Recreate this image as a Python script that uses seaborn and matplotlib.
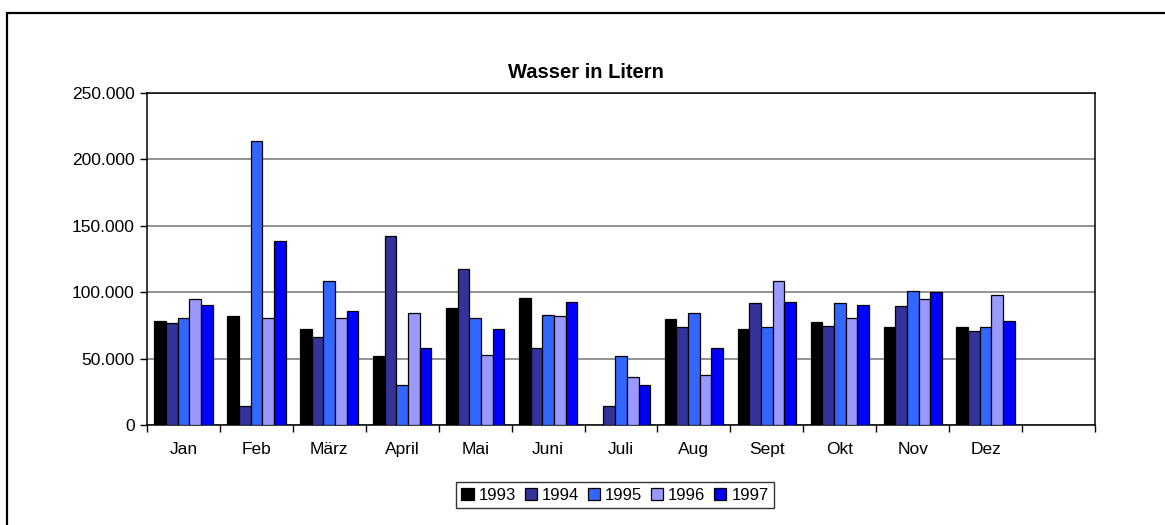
import numpy as np
import pandas as pd
import matplotlib
matplotlib.use("Agg")
import matplotlib.pyplot as plt
from matplotlib.patches import Rectangle
from matplotlib.ticker import FuncFormatter, FixedLocator
import seaborn as sns

# data (values in liters)
months = ["Jan", "Feb", "März", "April", "Mai", "Juni", "Juli", "Aug", "Sept", "Okt", "Nov", "Dez"]
years = ["1993", "1994", "1995", "1996", "1997"]
v1993 = [78500, 82100, 72500, 51900, 88100, 95400, np.nan, 79800, 72500, 77300, 73500, 73500]
v1994 = [76800, 14400, 66200, 142500, 117100, 57900, 14400, 73500, 91600, 74800, 89400, 71000]
v1995 = [80600, 213700, 108500, 30000, 80600, 83100, 51600, 84300, 73500, 91600, 101200, 73500]
v1996 = [95200, 80600, 80600, 84300, 52900, 81800, 36000, 37300, 108500, 80600, 95200, 97700]
v1997 = [90400, 138700, 85900, 57900, 72300, 92900, 30000, 57900, 92900, 90400, 100200, 78500]
colors = ["#000000", "#333399", "#3366FF", "#9999FF", "#0000FF"]

df = pd.DataFrame({"Monat": months, "1993": v1993, "1994": v1994, "1995": v1995,
                   "1996": v1996, "1997": v1997})
long = df.melt(id_vars="Monat", var_name="Jahr", value_name="Liter").dropna()

sns.set_theme(style="white")
plt.rcParams["font.family"] = ["Liberation Sans", "DejaVu Sans"]
plt.rcParams["text.color"] = "black"
plt.rcParams["xtick.color"] = "black"
plt.rcParams["ytick.color"] = "black"

fig = plt.figure(figsize=(11.65, 5.25), dpi=100)
ax = fig.add_axes([147 / 1165, 100 / 525, 948 / 1165, 332 / 525])

order = months + [""]
sns.barplot(data=long, x="Monat", y="Liter", hue="Jahr", order=order, hue_order=years,
            palette=colors, saturation=1, errorbar=None, width=0.8, edgecolor="black",
            linewidth=0.9, ax=ax, legend=True, zorder=3)

ax.set_xlim(-0.5, len(order) - 0.5)
ax.set_ylim(0, 250000)
ax.set_yticks(np.arange(0, 250001, 50000))
ax.yaxis.set_major_formatter(FuncFormatter(lambda v, p: f"{int(v):,}".replace(",", ".")))
ax.grid(axis="y", color="#808080", linewidth=1.2, zorder=0)
ax.set_axisbelow(True)
ax.set_xlabel("")
ax.set_ylabel("")

ax.xaxis.set_minor_locator(FixedLocator(np.arange(-0.5, len(order), 1.0)))
ax.tick_params(axis="x", which="major", length=0, pad=12, labelsize=12.5, labelcolor="black")
ax.tick_params(axis="x", which="minor", bottom=True, length=5, width=1, color="black", direction="out")
ax.tick_params(axis="y", left=True, length=5, width=1, color="black", direction="out",
               labelsize=12.5, labelcolor="black", pad=4)

for s in ax.spines.values():
    s.set_color("black")
    s.set_linewidth(1.1)

handles, labels = ax.get_legend_handles_labels()
ax.get_legend().remove()
leg = fig.legend(handles, labels, loc="center", bbox_to_anchor=(615 / 1165, 1 - 495 / 525),
                 ncol=5, frameon=True, fancybox=False, edgecolor="black", fontsize=12,
                 handlelength=0.75, handleheight=0.75, handletextpad=0.3,
                 columnspacing=0.5, borderpad=0.35, borderaxespad=0)
leg.get_frame().set_linewidth(1.0)
for t in leg.get_texts():
    t.set_color("black")

fig.text(586 / 1165, 1 - 72 / 525, "Wasser in Litern", ha="center", va="center",
         fontsize=14.5, fontweight="bold", color="black")

# outer chart-area frame
fig.patches.append(Rectangle((7 / 1165, -0.05), 1.2, 0.05 + 1 - 13 / 525,
                             transform=fig.transFigure, fill=False,
                             edgecolor="black", linewidth=1.6))

fig.savefig("out.png", dpi=100)
